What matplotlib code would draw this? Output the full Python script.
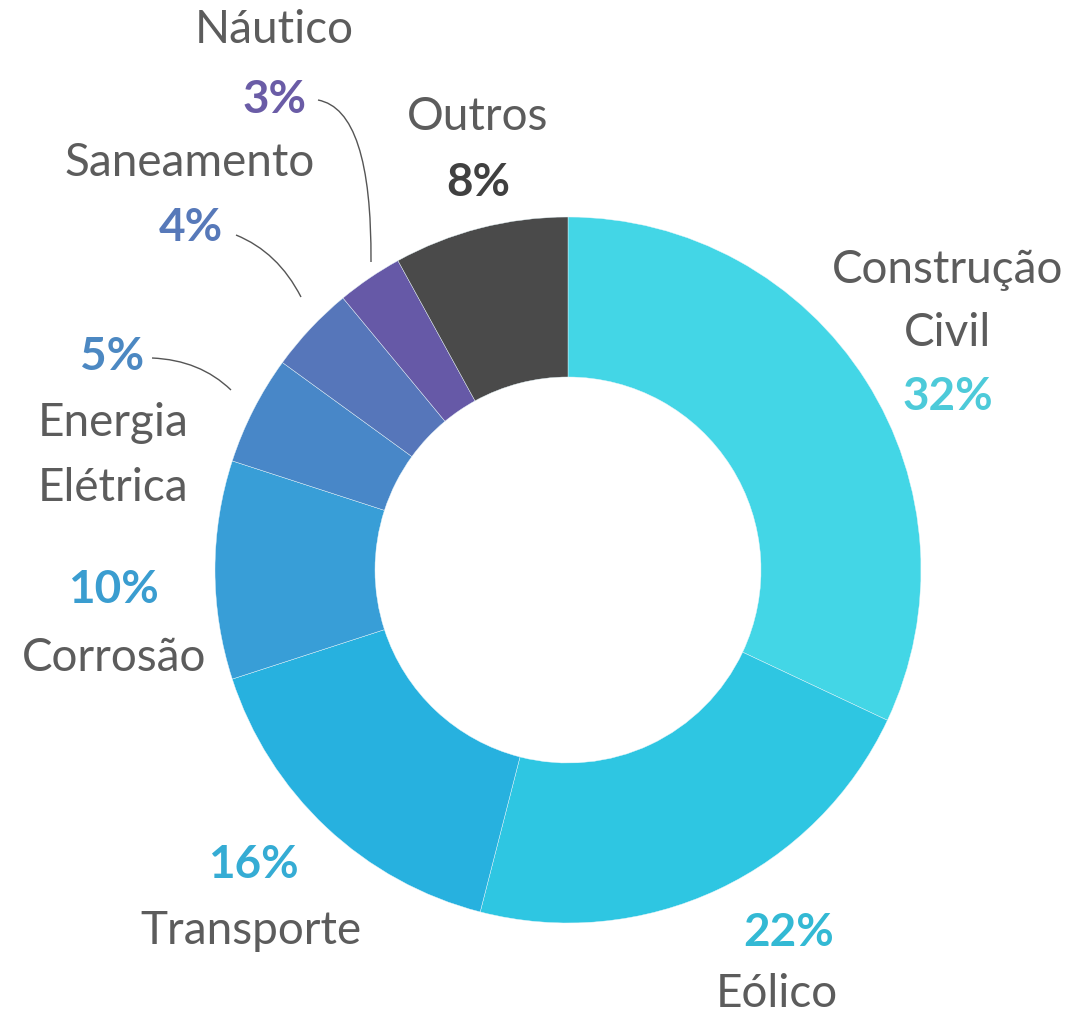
import matplotlib.pyplot as plt
from matplotlib.path import Path
from matplotlib.patches import PathPatch

# Data
labels = ['Construção\nCivil', 'Eólico', 'Transporte', 'Corrosão',
          'Energia\nElétrica', 'Saneamento', 'Náutico', 'Outros']
shares = [32, 22, 16, 10, 5, 4, 3, 8]
colors = ['#43D6E6', '#2EC6E2', '#27B1DF', '#389ED7',
          '#4887C8', '#5676BA', '#6659A7', '#4A4A4A']
pct_colors = ['#4DCAD9', '#33B9D4', '#35ACD4', '#3A9DD0',
              '#4C88C2', '#5779B9', '#6A5CA6', '#404040']

W, H = 1079, 1017
plt.rcParams['font.family'] = ['Lato', 'DejaVu Sans']

fig = plt.figure(figsize=(W / 100, H / 100), dpi=100)
ax = fig.add_axes([0, 0, 1, 1])

# Donut
cx, cy, r_out = 568, 570, 353
ax.pie(shares, colors=colors, startangle=90, counterclock=False,
       radius=r_out, center=(cx, H - cy),
       wedgeprops=dict(width=r_out - 193, edgecolor='#E8F6FA', linewidth=0.3))
ax.set_xlim(0, W)
ax.set_ylim(0, H)
ax.set_aspect('equal')
ax.axis('off')

name_color = '#5C5C5C'
fs = 33

# (name position, percent position) in image pixels
name_pos = [[(948, 270), (948, 333)], [(777, 994)], [(251, 931)], [(114, 658)],
            [(113, 423), (113, 488)], [(190, 163)], [(274, 30)], [(478, 117)]]
pct_pos = [(948, 397), (789, 933), (253, 865), (113, 590),
           (112, 357), (191, 228), (275, 100), (478, 183)]

for lab, share, pc, npos, ppos in zip(labels, shares, pct_colors, name_pos, pct_pos):
    for line, (x, y) in zip(lab.split('\n'), npos):
        ax.text(x, H - y, line, ha='center', va='center', fontsize=fs, color=name_color)
    ax.text(ppos[0], H - ppos[1], f'{share}%', ha='center', va='center',
            fontsize=fs, fontweight='bold', color=pc)

# Leader lines (quadratic curves)
leaders = [
    [(318, 100), (372, 110), (371, 262)],
    [(236, 235), (278, 252), (301, 297)],
    [(152, 358), (200, 360), (231, 390)],
]
for pts in leaders:
    verts = [(x, H - y) for x, y in pts]
    path = Path(verts, [Path.MOVETO, Path.CURVE3, Path.CURVE3])
    ax.add_patch(PathPatch(path, fill=False, edgecolor='#555555', linewidth=1))

fig.savefig('out.png', dpi=100)
